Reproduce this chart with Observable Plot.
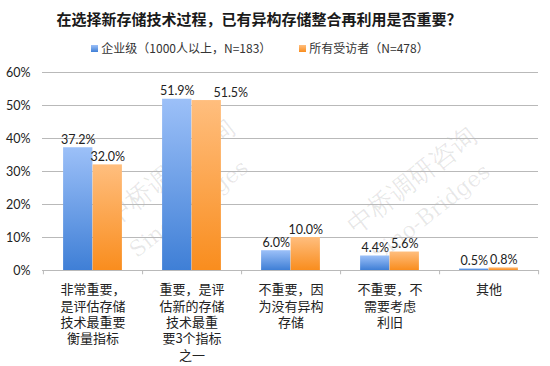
<!DOCTYPE html>
<html><head><meta charset="utf-8">
<script src="https://cdn.jsdelivr.net/npm/d3@7"></script>
<script src="https://cdn.jsdelivr.net/npm/@observablehq/plot@0.6"></script>
<style>
body{margin:0;background:#fff;font-family:"Noto Sans CJK SC",sans-serif;}
#wrap{position:relative;width:550px;height:366px;overflow:hidden;background:#fff;}
#title{position:absolute;left:0;top:9px;width:518px;text-align:center;font-weight:bold;font-size:15px;line-height:20px;color:#1a1a1a;}
#legend{position:absolute;left:0;top:39px;width:520px;text-align:center;font-size:12px;line-height:18px;color:#333;white-space:nowrap;}
#legend .item{display:inline-block;margin:0 14px;}
#legend .sw{display:inline-block;width:7px;height:7px;margin-right:3px;vertical-align:1px;}
.wm{position:absolute;color:rgba(0,0,0,0.09);font-family:"DejaVu Serif",serif;white-space:nowrap;transform-origin:center center;z-index:0;}
#chart{position:absolute;left:0;top:62px;z-index:1;}
</style></head>
<body>
<div id="wrap">
  <div id="title"></div>
  <div id="legend"></div>
  <div id="chart"></div>
</div>
<script>
const titleText = "在选择新存储技术过程，已有异构存储整合再利用是否重要？";
const categories = [
  "非常重要，\n是评估存储\n技术最重要\n衡量指标",
  "重要，是评\n估新的存储\n技术最重\n要3个指标\n之一",
  "不重要，因\n为没有异构\n存储",
  "不重要，不\n需要考虑\n利旧",
  "其他"
];
const seriesNames = ["企业级（1000人以上，N=183）", "所有受访者（N=478）"];
const enterprise = [37.2, 51.9, 6.0, 4.4, 0.5];
const allRespondents = [32.0, 51.5, 10.0, 5.6, 0.8];
const yTicks = [0, 10, 20, 30, 40, 50, 60];
const watermarkCN = "中桥调研咨询";
const watermarkEN = "Sino-Bridges";

const fmt = v => v.toFixed(1) + "%";
const entData = categories.map((c, i) => ({cat: c, value: enterprise[i]}));
// a second-series label collides with its neighbour when both labels are long and at nearly the same height
const allData = categories.map((c, i) => ({
  cat: c, value: allRespondents[i],
  collide: Math.abs(allRespondents[i] - enterprise[i]) < 1 && fmt(allRespondents[i]).length >= 5
}));

document.getElementById("title").textContent = titleText;
const legendSwatches = ["linear-gradient(#9cc0f8,#3f7fd6)", "linear-gradient(#ffbe7e,#f98d1e)"];
document.getElementById("legend").innerHTML = seriesNames.map((s, i) =>
  `<span class="item"><span class="sw" style="background:${legendSwatches[i]}"></span>${s}</span>`).join("");

// faint watermarks
const wrap = document.getElementById("wrap");
[[170, 172, watermarkCN, 26], [188, 208, watermarkEN, 22], [412, 180, watermarkCN, 26], [430, 212, watermarkEN, 22]].forEach(([cx, cy, t, fs]) => {
  const d = document.createElement("div");
  d.className = "wm";
  d.textContent = t;
  d.style.fontSize = fs + "px";
  wrap.appendChild(d);
  const w = d.offsetWidth, h = d.offsetHeight;
  d.style.left = (cx - w / 2) + "px";
  d.style.top = (cy - h / 2) + "px";
  d.style.transform = "rotate(-38deg)";
});

const W = 550, H = 304, ML = 42, MR = 12, MT = 10, MB = 96;
const step = (W - ML - MR) / categories.length;
const barW = 29.5;
const gap = (step - 2 * barW) / 2;
const gridColor = "#b9b9b9";
const numFont = "Lato, 'Noto Sans CJK SC', sans-serif";
const labelStyle = {x: "cat", y: "value", text: d => fmt(d.value), dy: -4, lineAnchor: "bottom", fontSize: 12.5, fontFamily: numFont, fill: "#222"};

const svg = Plot.plot({
  width: W, height: H,
  marginLeft: ML, marginRight: MR, marginTop: MT, marginBottom: MB,
  style: {background: "transparent", fontFamily: "'Noto Sans CJK SC', sans-serif", fontSize: "12px", color: "#333"},
  x: {domain: categories, padding: 0, label: null},
  y: {domain: [0, 60], label: null},
  marks: [
    Plot.gridY({ticks: yTicks.slice(1), stroke: gridColor, strokeOpacity: 1}),
    Plot.barY(entData, {x: "cat", y: "value", fill: "url(#gBlue)", insetLeft: gap, insetRight: step - gap - barW}),
    Plot.barY(allData, {x: "cat", y: "value", fill: "url(#gOrange)", insetLeft: gap + barW, insetRight: gap}),
    Plot.ruleY([0], {stroke: gridColor}),
    Plot.ruleX([categories[0]], {dx: -step / 2, y1: 0, y2: -1.3, stroke: gridColor}),
    Plot.ruleX(categories, {dx: step / 2, y1: 0, y2: -1.3, stroke: gridColor}),
    Plot.text(entData, {...labelStyle, dx: -barW / 2}),
    Plot.text(allData.filter(d => !d.collide), {...labelStyle, dx: barW / 2}),
    Plot.text(allData.filter(d => d.collide), {...labelStyle, dx: barW / 2 + 24}),
    Plot.axisY({ticks: yTicks, tickSize: 0, tickPadding: 12, tickFormat: d => d + "%", fontSize: 12.5, fontFamily: numFont, fill: "#222"}),
    Plot.axisX({tickSize: 0, tickPadding: 12, lineHeight: 1.26, fontSize: 13, fill: "#222"})
  ]
});

const defs = d3.select(svg).insert("defs", ":first-child");
const grads = [["gBlue", "#9cc0f8", "#3f7fd6"], ["gOrange", "#ffbe7e", "#f98d1e"]];
grads.forEach(([id, top, bottom]) => {
  const g = defs.append("linearGradient").attr("id", id).attr("x1", 0).attr("y1", 0).attr("x2", 0).attr("y2", 1);
  g.append("stop").attr("offset", "0%").attr("stop-color", top);
  g.append("stop").attr("offset", "100%").attr("stop-color", bottom);
});
document.getElementById("chart").appendChild(svg);
</script>
</body></html>
